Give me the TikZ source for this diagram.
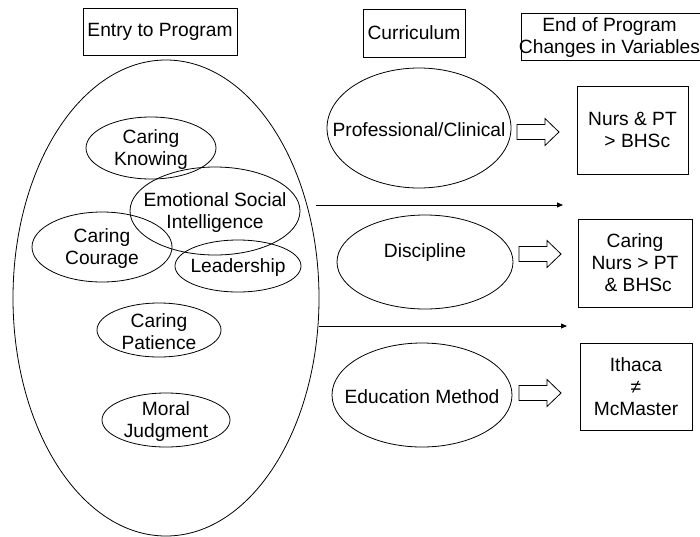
\documentclass[tikz,border=0pt]{standalone}
\usepackage{fontspec}
\setmainfont{Liberation Sans}
\usetikzlibrary{shapes.geometric,arrows.meta}
\begin{document}
\begin{tikzpicture}[x=1pt,y=-1pt,
  every node/.style={font=\fontsize{19.2}{22}\selectfont, align=center, inner sep=0pt},
  hbox/.style={draw, line width=0.8pt, minimum width=#1},
  oval/.style={draw, ellipse, line width=0.8pt},
  txt/.style={yshift=-1.5pt},
  thin/.style={line width=0.8pt, -{Triangle[length=6pt,width=5pt]}},
  blk/.style={line width=0.8pt, line join=miter}]
\useasboundingbox (0,0) rectangle (700,536);
% header boxes
\node[hbox=154pt, minimum height=47pt] (entry) at (160,31.5) {Entry to Program};
\node[hbox=102pt, minimum height=48pt] (curr) at (414,33) {Curriculum};
\node[hbox=180pt, minimum height=47pt] (endp) at (611,36.5) {};
\node[txt] (endt) at (609.5,36.5) {End of Program\\Changes in Variables};
% big ellipse
\node[oval, minimum width=306pt, minimum height=476pt] (big) at (166,298) {};
% inner ellipses
\node[oval, minimum width=130pt, minimum height=62pt] (ck) at (151,148) {};
\node[oval, minimum width=170pt, minimum height=88pt] (esi) at (215,211) {};
\node[oval, minimum width=140pt, minimum height=70pt] (cc) at (102,247) {};
\node[oval, minimum width=126pt, minimum height=52pt] (lead) at (238,266) {};
\node[oval, minimum width=124pt, minimum height=54pt] (cp) at (159,330) {};
\node[oval, minimum width=128pt, minimum height=54pt] (mj) at (166,420) {};
\node[txt] (ckt) at (ck) {Caring\\Knowing};
\node[txt] (esit) at (esi) {Emotional Social\\Intelligence};
\node[txt] (cct) at (cc) {Caring\\Courage};
\node[txt] (leadt) at (lead) {Leadership};
\node[txt] (cpt) at (cp) {Caring\\Patience};
\node[txt] (mjt) at (mj) {Moral\\Judgment};
% curriculum ellipses
\node[oval, minimum width=184pt, minimum height=120pt] (pc) at (419,128) {};
\node[oval, minimum width=176pt, minimum height=94pt] (disc) at (425,262) {};
\node[oval, minimum width=180pt, minimum height=104pt] (em) at (422,395) {};
\node[txt] (pct) at (pc) {Professional/Clinical};
\node (disct) at ([yshift=9pt]disc.center) {Discipline};
\node[txt] (emt) at (em) {Education Method};
% block arrows
\coordinate (a1) at (538,132);
\coordinate (a2) at (540,254);
\coordinate (a3) at (540,393);
\foreach \a in {a1,a2,a3}{
  \draw[blk] (\a) ++(-21,-7.5) -- ++(28,0) -- ++(0,-6) -- ++(14,13.5) -- ++(-14,13.5)
     -- ++(0,-6) -- ++(-28,0) -- cycle;
}
% result boxes
\node[hbox=111pt, minimum height=88pt] (r1) at (632.5,130) {Nurs \& PT\\ \,\,\,{>} BHSc};
\node[hbox=114pt, minimum height=88pt] (r2) at (635,263) {Caring\\Nurs {>} PT\\ \,\,\& BHSc};
\node[hbox=112pt, minimum height=87pt] (r3) at (636,386.5) {Ithaca\\≠\\McMaster};
% thin arrows
\coordinate (l1s) at (316,205);
\coordinate (l1e) at (563,205);
\coordinate (l2s) at (319,326);
\coordinate (l2e) at (567,326);
\draw[thin] (l1s) -- (l1e);
\draw[thin] (l2s) -- (l2e);
\end{tikzpicture}
\end{document}
